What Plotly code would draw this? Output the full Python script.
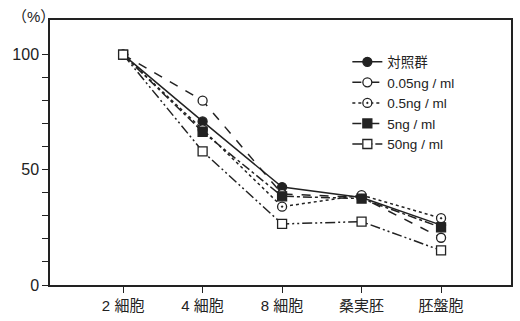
import plotly.graph_objects as go

stages = ["2 細胞", "4 細胞", "8 細胞", "桑実胚", "胚盤胞"]
control = [100, 71, 42.5, 38, 26]
conc_005 = [100, 80, 39.5, 38, 20.5]
conc_05 = [100, 67.5, 34, 39, 29]
conc_5 = [100, 66.5, 38.5, 37.5, 25]
conc_50 = [100, 58, 26.5, 27.5, 15]

y_tick_vals = [0, 10, 20, 30, 40, 50, 60, 70, 80, 90, 100]
y_tick_text = ["0", "", "", "", "", "50", "", "", "", "", "100"]

FONT = "Liberation Sans, Noto Sans CJK JP, sans-serif"
INK = "#222222"

# name, values, dash pattern, marker symbol, marker fill
series = [
    ("対照群", control, "solid", "circle", INK),
    ("0.05ng / ml", conc_005, "dash", "circle", "white"),
    ("0.5ng / ml", conc_05, "dot", "circle-dot", "white"),
    ("5ng / ml", conc_5, "dashdot", "square", INK),
    ("50ng / ml", conc_50, "10px,3px,2px,3px,2px,3px", "square", "white"),
]

xs = list(range(len(stages)))

fig = go.Figure()
for name, vals, dash, sym, fill in series:
    fig.add_trace(go.Scatter(
        x=xs, y=vals, name=name, mode="lines+markers",
        line=dict(color=INK, width=1.5, dash=dash),
        marker=dict(symbol=sym, size=9, color=fill,
                    line=dict(color=INK, width=1.3)),
    ))

fig.update_layout(
    width=520, height=321,
    margin=dict(l=50, r=7, t=20, b=35),
    paper_bgcolor="white", plot_bgcolor="white",
    font=dict(family=FONT, color=INK, size=15),
    showlegend=True,
    legend=dict(x=0.645, y=0.90, xanchor="left", yanchor="top",
                bgcolor="rgba(0,0,0,0)", font=dict(size=13.5, color=INK),
                tracegroupgap=0),
    xaxis=dict(
        range=[-0.92, 4.88], tickmode="array", tickvals=xs, ticktext=stages,
        showgrid=False, zeroline=False, showline=True, linecolor=INK, linewidth=1.5,
        mirror=True, ticks="outside", ticklen=6, tickcolor=INK,
        tickfont=dict(size=15, color=INK),
    ),
    yaxis=dict(
        range=[0, 115], tickmode="array", tickvals=y_tick_vals, ticktext=y_tick_text,
        showgrid=False, zeroline=False, showline=True, linecolor=INK, linewidth=1.5,
        mirror=True, ticks="outside", ticklen=6, tickcolor=INK,
        tickfont=dict(size=16, color=INK),
    ),
    annotations=[dict(text="（%）", xref="paper", yref="paper", x=-0.035, y=1.015,
                      xanchor="center", yanchor="middle", showarrow=False,
                      font=dict(size=15, color=INK))],
)

fig.write_html("out.html")
